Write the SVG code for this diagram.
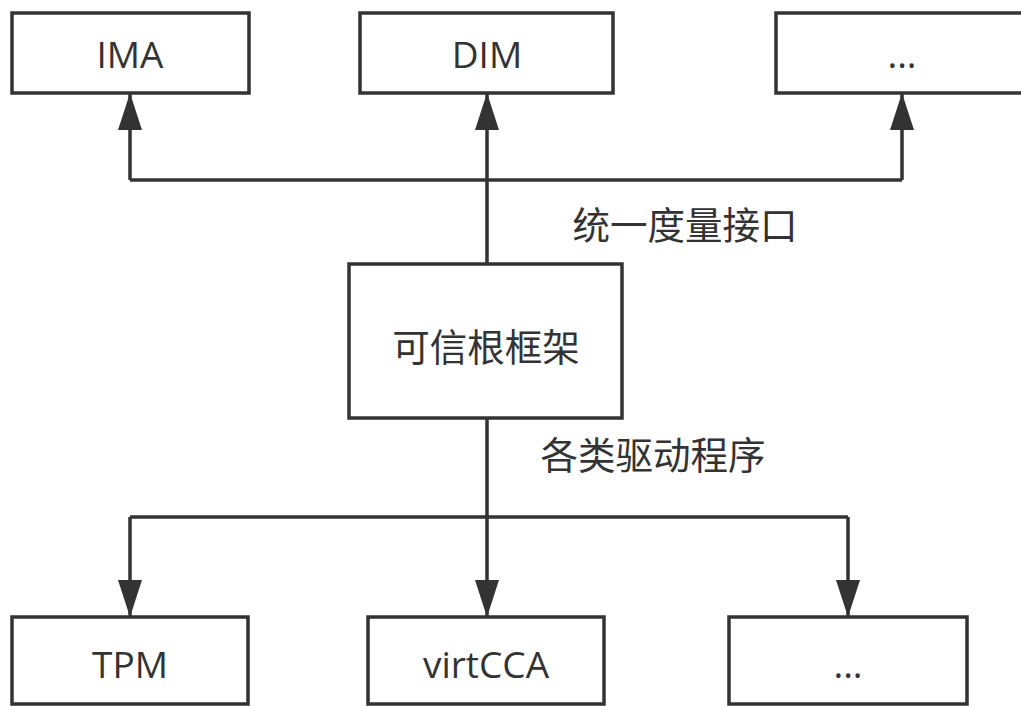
<svg xmlns="http://www.w3.org/2000/svg" width="1021" height="706" viewBox="0 0 1021 706">
<style>
.box{fill:#ffffff;stroke:#333333;stroke-width:3.5}
.lbl{font-family:"Open Sans","Noto Sans CJK SC",sans-serif;font-size:37px;fill:#333333;text-anchor:middle;dominant-baseline:central}
.cjk{font-size:37.5px}
.edge{fill:none;stroke:#333333;stroke-width:3.5;stroke-linejoin:miter}
</style>
<defs>
<marker id="arr" markerUnits="userSpaceOnUse" markerWidth="38" markerHeight="26" refX="37" refY="12" orient="auto" viewBox="0 0 38 26">
<path d="M0,0 L37,12 L0,24 Z" fill="#333333"/>
</marker>
</defs>
<rect width="1021" height="706" fill="#ffffff"/>
<g id="connectors">
<path class="edge" d="M487,264 L487,93" marker-end="url(#arr)"/>
<path class="edge" d="M130,180 L902,180"/>
<path class="edge" d="M130,180 L130,93" marker-end="url(#arr)"/>
<path class="edge" d="M902,180 L902,93" marker-end="url(#arr)"/>
<path class="edge" d="M487,418 L487,617" marker-end="url(#arr)"/>
<path class="edge" d="M130,517 L848,517"/>
<path class="edge" d="M130,517 L130,617" marker-end="url(#arr)"/>
<path class="edge" d="M848,517 L848,617" marker-end="url(#arr)"/>
<text class="lbl cjk" x="685" y="224">统一度量接口</text>
<text class="lbl cjk" x="653" y="454">各类驱动程序</text>
</g>
<g id="node-ima">
<rect class="box" x="12" y="13" width="237" height="80"/>
<text class="lbl" x="130" y="53">IMA</text>
</g>
<g id="node-dim">
<rect class="box" x="360" y="13" width="253" height="80"/>
<text class="lbl" x="487" y="53">DIM</text>
</g>
<g id="node-more-top">
<rect class="box" x="776" y="13" width="252" height="80"/>
<text class="lbl" x="902" y="53">...</text>
</g>
<g id="node-root">
<rect class="box" x="349" y="264" width="273" height="154"/>
<text class="lbl cjk" x="486" y="346">可信根框架</text>
</g>
<g id="node-tpm">
<rect class="box" x="12" y="617" width="236" height="87"/>
<text class="lbl" x="130" y="663">TPM</text>
</g>
<g id="node-virtcca">
<rect class="box" x="368" y="617" width="236" height="87"/>
<text class="lbl" x="486" y="663">virtCCA</text>
</g>
<g id="node-more-bottom">
<rect class="box" x="729" y="617" width="238" height="87"/>
<text class="lbl" x="848" y="663">...</text>
</g>
</svg>
